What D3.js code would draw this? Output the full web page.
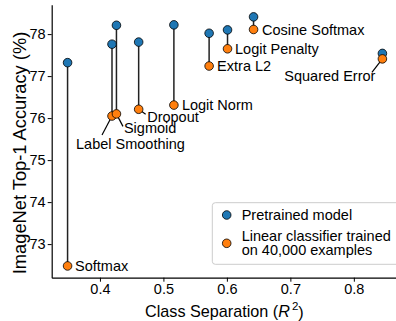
<!DOCTYPE html>
<html>
<head>
<meta charset="utf-8">
<script src="https://cdn.jsdelivr.net/npm/d3@7"></script>
<style>
  body { margin: 0; background: #fff; }
  svg { display: block; font-family: "Liberation Sans", Arial, Helvetica, sans-serif; }
</style>
</head>
<body>
<div id="chart"></div>
<script>
// values
const methods = ["Softmax", "Label Smoothing", "Sigmoid", "Dropout", "Logit Norm",
                 "Extra L2", "Logit Penalty", "Cosine Softmax", "Squared Error"];
const separation = [0.349, 0.419, 0.426, 0.461, 0.5165, 0.572, 0.601, 0.642, 0.845];
const pretrainedAcc = [77.32, 77.76, 78.21, 77.81, 78.22, 78.02, 78.10, 78.41, 77.54];
const linearAcc = [72.48, 76.05, 76.10, 76.21, 76.31, 77.24, 77.65, 78.11, 77.41];
const xTicks = [0.4, 0.5, 0.6, 0.7, 0.8];
const yTicks = [73, 74, 75, 76, 77, 78];
const legendLabels = [["Pretrained model"], ["Linear classifier trained", "on 40,000 examples"]];

// label placement relative to the orange point (px), leader line end if any
const labelPos = {
    "Softmax":         { dx: 7.5, dy: 0 },
    "Label Smoothing": { dx: -36, dy: 27.5, lx: -10, ly: 19 },
    "Sigmoid":         { dx: 7.5, dy: 14.5, lx: 6.5, ly: 12.5 },
    "Dropout":         { dx: 8.5, dy: 7.5, lx: 7, ly: 5 },
    "Logit Norm":      { dx: 8, dy: 0 },
    "Extra L2":        { dx: 8, dy: 0 },
    "Logit Penalty":   { dx: 7.5, dy: 0 },
    "Cosine Softmax":  { dx: 8.5, dy: 0 },
    "Squared Error":   { dx: -7, dy: 17, anchor: "end", lx: -10.5, ly: 13.5 }
};

const W = 396, H = 321;
const margin = { top: 4.7, left: 51.7, right: -1, bottom: 43.3 };
const blue = "#1f77b4", orange = "#ff7f0e";
const fs = 14.5;

const svg = d3.select("#chart").append("svg")
    .attr("width", W)
    .attr("height", H);

const x = d3.scaleLinear().domain([0.324, 0.868]).range([margin.left, W - margin.right]);
const y = d3.scaleLinear().domain([72.2, 78.7]).range([H - margin.bottom, margin.top]);

// axes
const xAxis = svg.append("g")
    .attr("transform", `translate(0,${H - margin.bottom})`)
    .call(d3.axisBottom(x).tickValues(xTicks).tickFormat(d3.format(".1f")).tickSize(4).tickPadding(2).tickSizeOuter(0));
const yAxis = svg.append("g")
    .attr("transform", `translate(${margin.left},0)`)
    .call(d3.axisLeft(y).tickValues(yTicks).tickFormat(d3.format("d")).tickSize(4).tickPadding(2).tickSizeOuter(0));
[xAxis, yAxis].forEach(a => {
    a.select(".domain").attr("stroke", "#000").attr("stroke-width", 1.2);
    a.selectAll(".tick line").attr("stroke", "#000").attr("stroke-width", 1);
    a.selectAll(".tick text").attr("font-size", fs).attr("fill", "#000").attr("font-family", null);
});

// axis titles
const xt = svg.append("text")
    .attr("x", (margin.left + W - margin.right) / 2)
    .attr("y", 311.5)
    .attr("dy", "0.35em")
    .attr("text-anchor", "middle")
    .attr("font-size", 16.2);
xt.append("tspan").text("Class Separation (");
xt.append("tspan").attr("font-style", "italic").text("R");
xt.append("tspan").attr("font-size", 11.5).attr("dy", "-0.6em").attr("dx", "2").text("2");
xt.append("tspan").attr("dy", "0.45em").text(")");

svg.append("text")
    .attr("transform", `translate(19.5,153) rotate(-90)`)
    .attr("dy", "0.35em")
    .attr("text-anchor", "middle")
    .attr("font-size", 18.3)
    .text("ImageNet Top-1 Accuracy (%)");

const idx = d3.range(methods.length);

// connecting stems
svg.selectAll(".stem")
    .data(idx)
    .enter().append("line")
    .attr("class", "stem")
    .attr("x1", i => x(separation[i]))
    .attr("x2", i => x(separation[i]))
    .attr("y1", i => y(pretrainedAcc[i]))
    .attr("y2", i => y(linearAcc[i]))
    .attr("stroke", "#222")
    .attr("stroke-width", 1.5);

// leader lines
svg.selectAll(".leader")
    .data(idx.filter(i => labelPos[methods[i]].lx !== undefined))
    .enter().append("line")
    .attr("class", "leader")
    .attr("x1", i => x(separation[i]))
    .attr("y1", i => y(linearAcc[i]))
    .attr("x2", i => x(separation[i]) + labelPos[methods[i]].lx)
    .attr("y2", i => y(linearAcc[i]) + labelPos[methods[i]].ly)
    .attr("stroke", "#000")
    .attr("stroke-width", 1.2);

svg.selectAll(".pre")
    .data(idx)
    .enter().append("circle")
    .attr("class", "pre")
    .attr("cx", i => x(separation[i]))
    .attr("cy", i => y(pretrainedAcc[i]))
    .attr("r", 4.3)
    .attr("fill", blue)
    .attr("stroke", "#000")
    .attr("stroke-width", 0.8);

svg.selectAll(".lin")
    .data(idx)
    .enter().append("circle")
    .attr("class", "lin")
    .attr("cx", i => x(separation[i]))
    .attr("cy", i => y(linearAcc[i]))
    .attr("r", 4.3)
    .attr("fill", orange)
    .attr("stroke", "#000")
    .attr("stroke-width", 0.8);

svg.selectAll(".lbl")
    .data(idx)
    .enter().append("text")
    .attr("class", "lbl")
    .attr("x", i => x(separation[i]) + labelPos[methods[i]].dx)
    .attr("y", i => y(linearAcc[i]) + labelPos[methods[i]].dy)
    .attr("dy", "0.35em")
    .attr("text-anchor", i => labelPos[methods[i]].anchor || "start")
    .attr("font-size", fs)
    .text(i => methods[i]);

// legend
const lg = svg.append("g");
lg.append("rect")
    .attr("x", 212.3).attr("y", 202.7)
    .attr("width", 200).attr("height", 61.6)
    .attr("rx", 3)
    .attr("fill", "#fff").attr("fill-opacity", 0.85)
    .attr("stroke", "#ccc").attr("stroke-width", 1);
const legendY = [215, 243.3];
[blue, orange].forEach((c, k) => {
    lg.append("circle")
        .attr("cx", 226.7).attr("cy", legendY[k]).attr("r", 4.3)
        .attr("fill", c).attr("stroke", "#000").attr("stroke-width", 0.8);
    const lines = legendLabels[k];
    lines.forEach((t, j) => {
        lg.append("text")
            .attr("x", 241.7)
            .attr("y", legendY[k] + (j - (lines.length - 1) / 2) * 14)
            .attr("dy", "0.35em")
            .attr("font-size", fs)
            .text(t);
    });
});
</script>
</body>
</html>
